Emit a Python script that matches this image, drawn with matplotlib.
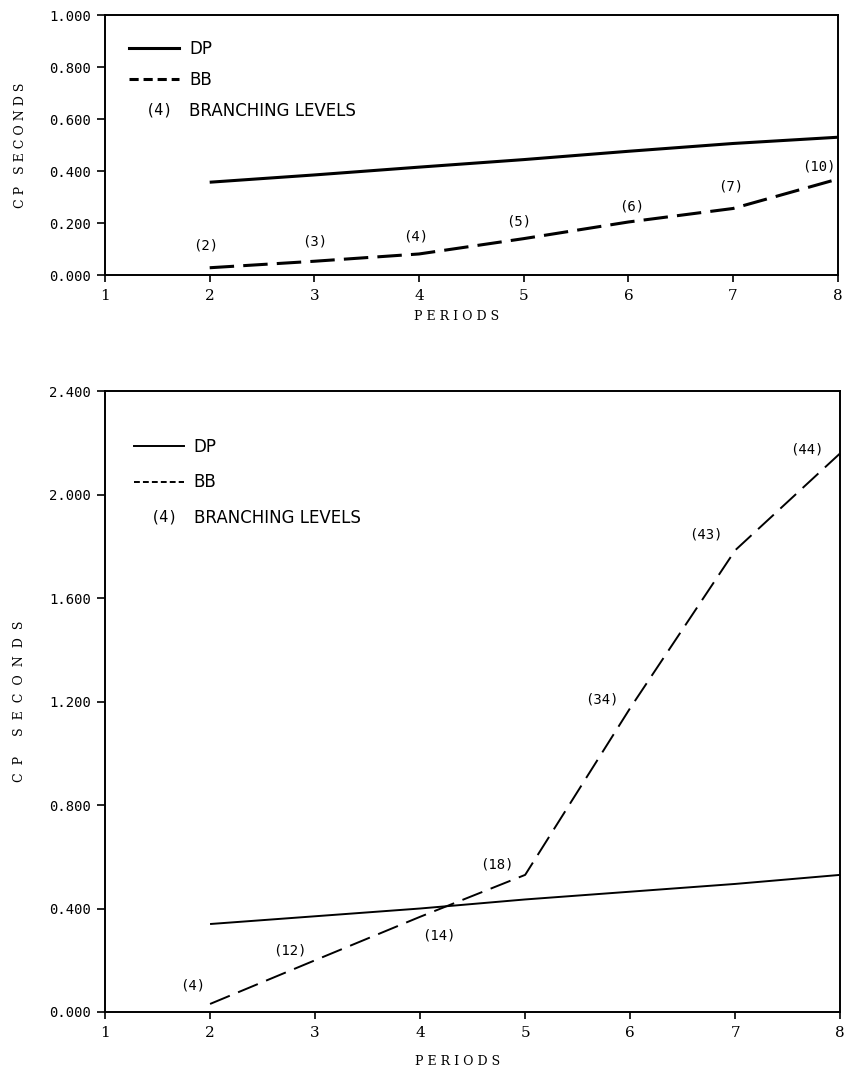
import matplotlib
matplotlib.use("Agg")
import matplotlib.pyplot as plt
from matplotlib.lines import Line2D
from matplotlib.legend_handler import HandlerBase
from matplotlib.text import Text

# data
periods = [2, 3, 4, 5, 6, 7, 8]

top_dp = [0.357, 0.385, 0.415, 0.444, 0.476, 0.506, 0.530]
top_bb = [0.028, 0.053, 0.081, 0.140, 0.204, 0.256, 0.369]
top_levels = ["(2)", "(3)", "(4)", "(5)", "(6)", "(7)", "(10)"]

bot_dp = [0.340, 0.370, 0.400, 0.435, 0.465, 0.495, 0.530]
bot_bb = [0.031, 0.200, 0.368, 0.530, 1.175, 1.785, 2.160]
bot_levels = ["(4)", "(12)", "(14)", "(18)", "(34)", "(43)", "(44)"]

top_yticks = [0.0, 0.2, 0.4, 0.6, 0.8, 1.0]
bot_yticks = [0.0, 0.4, 0.8, 1.2, 1.6, 2.0, 2.4]
xticks = [1, 2, 3, 4, 5, 6, 7, 8]

# label offsets in pixels (dx, dy) from each BB point
top_offsets = [(-4, 22), (0, 20), (-3, 17), (-5, 17), (3, 15), (-2, 22), (-19, 13)]
bot_offsets = [(-17, 18), (-25, 10), (19, -19), (-28, 10), (-28, 9), (-29, 16), (-33, 4)]

MONO = ["DejaVu Sans Mono"]
SERIF = ["DejaVu Serif"]
SANS = ["DejaVu Sans"]


class TextHandle(HandlerBase):
    # draws "(4)" in place of a line in the legend
    def create_artists(self, legend, orig_handle, xdescent, ydescent,
                       width, height, fontsize, trans):
        t = Text(width / 2 - xdescent + 4, height / 2 - ydescent, "(4)",
                 ha="center", va="center", fontsize=11, family=MONO,
                 transform=trans)
        return [t]


def draw_panel(ax, dp, bb, levels, offsets, yticks, lw, dash, lab_spacing,
               leg_anchor, ylab_spacing, xlab_y):
    ax.plot(periods, dp, color="black", lw=lw, solid_capstyle="butt")
    ax.plot(periods, bb, color="black", lw=lw, linestyle=(0, dash))
    for x, y, s, (dx, dy) in zip(periods, bb, levels, offsets):
        ax.annotate(s, (x, y), xytext=(dx, dy), textcoords="offset pixels",
                    ha="center", va="center", fontsize=10, family=MONO)

    ax.set_xlim(1, 8)
    ax.set_ylim(yticks[0], yticks[-1])
    ax.set_xticks(xticks)
    ax.set_xticklabels([str(v) for v in xticks], family=SERIF, fontsize=11)
    ax.set_yticks(yticks)
    ax.set_yticklabels([f"{v:.3f}" for v in yticks], family=MONO, fontsize=10)
    ax.tick_params(axis="y", direction="out", length=6, width=1.2, pad=4)
    ax.tick_params(axis="x", direction="out", length=5, width=1.2, pad=5)
    for sp in ax.spines.values():
        sp.set_linewidth(1.4)

    ax.set_ylabel(ylab_spacing.join("CP SECONDS"), family=SERIF, fontsize=9,
                  va="center", ha="center")
    ax.yaxis.set_label_coords(-0.116, 0.5)
    ax.set_xlabel(" ".join("PERIODS"), family=SERIF, fontsize=9,
                  va="center", ha="center")
    ax.xaxis.set_label_coords(0.48, xlab_y)

    handles = [Line2D([], [], color="black", lw=lw),
               Line2D([], [], color="black", lw=lw, linestyle=(0, (3, 1.6))),
               Line2D([], [], linestyle="none")]
    ax.legend(handles, ["DP", "BB", "BRANCHING LEVELS"],
              handler_map={handles[2]: TextHandle()},
              loc="upper left", bbox_to_anchor=leg_anchor, frameon=False,
              borderpad=0, borderaxespad=0, handlelength=3.0,
              handletextpad=0.6, labelspacing=lab_spacing,
              prop={"family": SANS, "size": 12})


fig = plt.figure(figsize=(8.51, 10.76), dpi=100)
ax1 = fig.add_axes([0.1234, 0.7444, 0.861, 0.2416])
ax2 = fig.add_axes([0.1234, 0.0595, 0.864, 0.577])

draw_panel(ax1, top_dp, top_bb, top_levels, top_offsets, top_yticks,
           lw=2.2, dash=(8, 3), lab_spacing=0.78, leg_anchor=(0.033, 0.905),
           ylab_spacing=" ", xlab_y=-0.16)
draw_panel(ax2, bot_dp, bot_bb, bot_levels, bot_offsets, bot_yticks,
           lw=1.4, dash=(11, 4.6), lab_spacing=1.06, leg_anchor=(0.039, 0.925),
           ylab_spacing="  ", xlab_y=-0.079)

fig.savefig("out.png", dpi=100)
